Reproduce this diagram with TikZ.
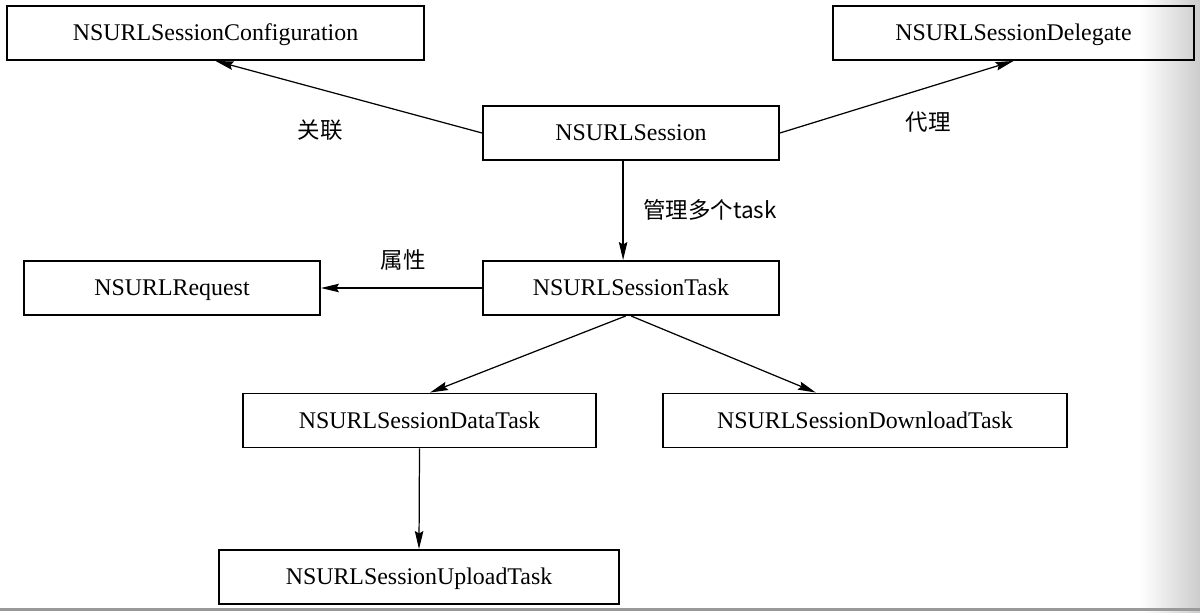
\documentclass[tikz,border=0pt]{standalone}
\usepackage{fontspec}
\setmainfont{Liberation Serif}
\newfontfamily\cjk{Noto Sans CJK SC}
\usetikzlibrary{arrows.meta}

\begin{document}
\begin{tikzpicture}[x=0.02cm, y=-0.02cm,
        box/.style={draw, rectangle, line width=1.1pt, minimum height=1.08cm, inner sep=0pt, text height=9pt, text depth=0pt, font=\fontsize{13.6}{16}\selectfont},
        lbl/.style={inner sep=0pt, font=\cjk\fontsize{12.8}{15}\selectfont},
        arr/.style={-{Stealth[length=3.6mm, width=1.7mm, inset=0.5mm]}, line width=0.7pt}]
        \useasboundingbox (0,0) rectangle (1200,612);
        % page edge
        \shade[left color=white, right color=black!20] (1140,0) rectangle (1200,612);
        \fill[black!40] (0,608) rectangle (1200,611);

        \node[box, minimum width=8.34cm] (conf) at (215.5,33) {NSURLSessionConfiguration};
        \node[box, minimum width=7.22cm] (deleg) at (1013.5,33) {NSURLSessionDelegate};
        \node[box, minimum width=5.92cm] (sess) at (631,133) {NSURLSession};
        \node[box, minimum width=5.92cm] (task) at (631,288) {NSURLSessionTask};
        \node[box, minimum width=5.92cm] (req) at (172,288) {NSURLRequest};
        \node[box, minimum width=7.06cm] (data) at (419.5,420.5) {NSURLSessionDataTask};
        \node[box, minimum width=8.08cm] (down) at (865,420.5) {NSURLSessionDownloadTask};
        \node[box, minimum width=8.0cm] (up) at (419,577) {NSURLSessionUploadTask};

        \node[lbl] (lassoc) at (320,130) {关联};
        \node[lbl] (ldeleg) at (928,122) {代理};
        \node[lbl] (lmanage) at (710,210) {管理多个task};
        \node[lbl] (lattr) at (403,260) {属性};

        \draw[arr] (sess.west) -- (conf.south);
        \draw[arr] (sess.east) -- (deleg.south);
        \draw[arr] ([xshift=-4.5pt]sess.south) -- ([xshift=-4.5pt]task.north);
        \draw[arr] (task.west) -- (req.east);
        \draw[arr] ([xshift=-3pt]task.south) -- ([xshift=6pt]data.north);
        \draw[arr] (task.south) -- ([xshift=-28pt]down.north);
        \draw[arr] (data.south) -- (up.north);
      \end{tikzpicture}
\end{document}
